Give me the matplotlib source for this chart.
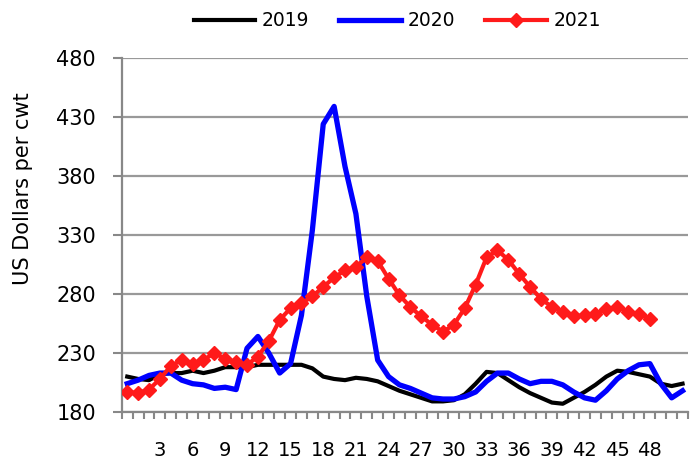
import matplotlib
matplotlib.use('Agg')
import matplotlib.pyplot as plt
import numpy as np

weeks = list(range(1, 53))

y2019 = [210, 208, 207, 212, 213, 213, 215, 213, 215, 218, 218, 218, 220, 220, 220, 220,
         220, 217, 210, 208, 207, 209, 208, 206, 202, 198, 195, 192, 189, 189, 190, 195,
         204, 214, 213, 207, 201, 196, 192, 188, 187, 192, 197, 203, 210, 215, 214, 212,
         210, 204, 202, 204]

y2020 = [204, 207, 211, 213, 213, 207, 204, 203, 200, 201, 199, 234, 244, 230, 213, 221,
         262, 334, 424, 439, 388, 348, 278, 224, 210, 203, 200, 196, 192, 191, 191, 193,
         197, 206, 213, 213, 208, 204, 206, 206, 203, 197, 192, 190, 198, 208, 215, 220,
         221, 204, 192, 198]

y2021 = [197, 196, 199, 208, 219, 224, 221, 224, 230, 225, 222, 220, 227, 240, 258, 268,
         272, 278, 286, 294, 300, 303, 311, 308, 293, 279, 269, 261, 254, 248, 254, 268,
         288, 311, 317, 309, 297, 286, 276, 269, 265, 261, 262, 263, 267, 269, 265, 263,
         259]

# axis labels sit one category to the right of their number in the source chart
tick_labels = [str(k) for k in range(3, 49, 3)]
tick_pos = [k + 1 for k in range(3, 49, 3)]
yticks = [180, 230, 280, 330, 380, 430, 480]

plt.rcParams['font.family'] = ['DejaVu Sans']

fig = plt.figure(figsize=(6.96, 4.59), dpi=100)
ax = fig.add_axes([0.175, 0.1024, 0.8135, 0.7712])

ax.plot(weeks, y2019, color='black', lw=3, label='2019', zorder=3)
ax.plot(weeks, y2020, color='#0000ff', lw=3.8, label='2020', zorder=3)
ax.plot(weeks[:len(y2021)], y2021, color='#ff1a1a', lw=3, marker='D', markersize=7,
        label='2021', zorder=4)

ax.set_xlim(0.5, 52.5)
ax.set_ylim(180, 480)
ax.set_yticks(yticks)
ax.set_xticks(tick_pos)
ax.set_xticklabels(tick_labels)
ax.set_xticks(np.arange(0.5, 53, 1), minor=True)
ax.tick_params(axis='x', which='major', length=0, pad=21, labelsize=14)
ax.tick_params(axis='x', which='minor', length=5, width=1.5, color='#888888', direction='out')
ax.tick_params(axis='y', length=6.5, width=1.5, color='#888888', labelsize=15, pad=12)

ax.grid(axis='y', color='#999999', lw=1.6, zorder=0)
for s in ['top', 'right']:
    ax.spines[s].set_visible(False)
ax.spines['left'].set_color('#888888')
ax.spines['left'].set_linewidth(1.6)
ax.spines['bottom'].set_color('#888888')
ax.spines['bottom'].set_linewidth(1.6)

ax.set_ylabel('US Dollars per cwt', fontsize=15)
ax.yaxis.set_label_coords(-0.157, 0.63)

fig.legend(loc='center', bbox_to_anchor=(0.571, 0.955), ncol=3, frameon=False,
           fontsize=13.5, handlelength=3.3, columnspacing=1.6, handletextpad=0.35)

fig.savefig('out.png', dpi=100)
